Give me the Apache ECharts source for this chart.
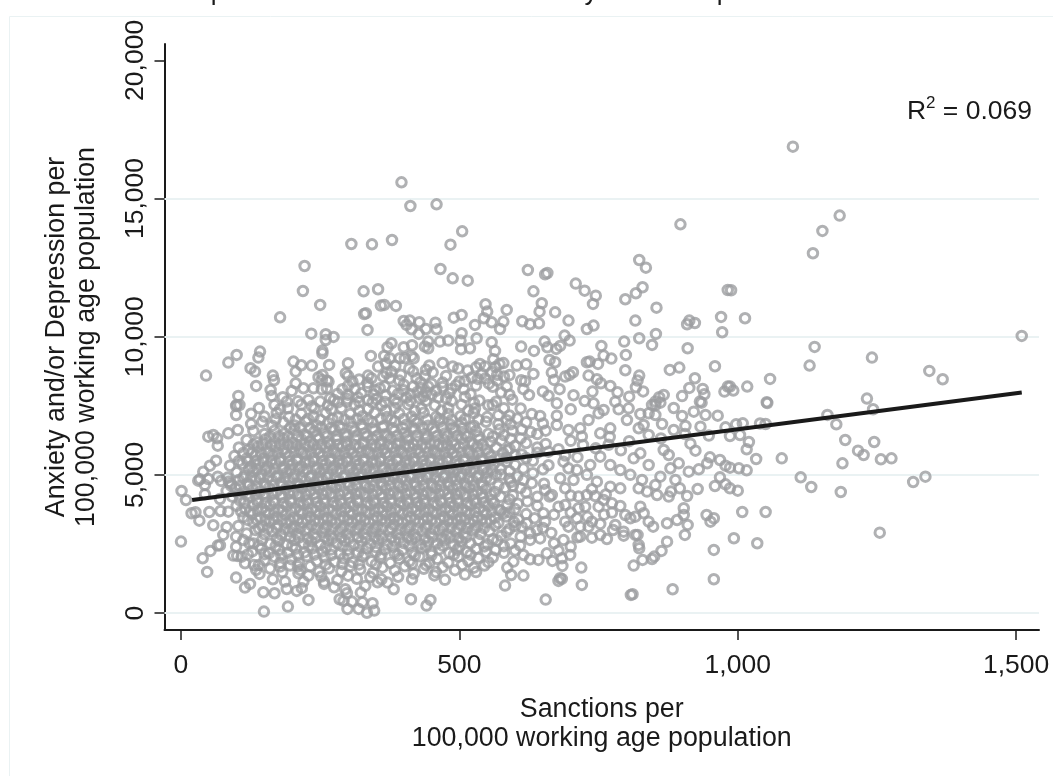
<!DOCTYPE html>
<html><head><meta charset="utf-8">
<style>html,body{margin:0;padding:0;background:#fff}#c{width:1053px;height:776px}</style>
<script src="https://cdn.jsdelivr.net/npm/echarts@6/dist/echarts.min.js"></script>
</head><body><div id="c"></div>
<script>
const xTicks=[0,500,1000,1500];
const yTicks=[0,5000,10000,15000,20000];
const gridValues=[0,5000,10000,15000];
const fitLine=[[20,4090],[1510,7980]];
const leftEdge=[[1,4417],[9,4091],[19,3609],[26,3645],[33,3343],[51,3657],[0,2585],[39,1980],[53,2246],[47,1486],[58,3175],[82,3114],[76,2825],[70,2451],[66,2440],[99,2764],[103,3150],[99,2400],[94,2077],[101,2065],[109,2040],[115,1800],[131,1740],[140,1740],[135,1559],[141,1414],[123,2523],[99,1281],[115,919],[124,1052],[148,750],[168,714],[149,51],[192,232],[229,473],[165,1220],[190,870],[187,1137],[208,800],[217,900],[220,1137],[229,1353],[211,1438],[257,1137],[257,1052],[281,1197],[275,931],[295,859],[298,714],[285,497],[292,437],[307,413],[299,147],[319,147],[326,389],[344,352],[347,87],[334,10],[323,739],[331,980],[353,1113],[371,1100],[382,859],[413,497],[441,268],[448,473],[49,6382],[58,6443],[65,6322],[66,6057],[85,6503],[102,6624],[63,5514],[52,5333],[40,5116],[34,4839],[31,4790],[49,4851],[43,4634],[66,4935],[43,4296],[70,4127],[88,5333],[86,4754],[71,3693],[85,3669],[99,7166],[99,7492],[105,7528]];
const topEdge=[[396,15587],[412,14730],[306,13356],[343,13344],[379,13500],[222,12560],[219,11655],[250,11149],[328,11643],[354,11716],[359,11125],[365,11149],[386,11113],[329,10823],[332,10847],[178,10702],[335,10244],[234,10111],[260,10088],[274,9991],[260,9882],[254,9497],[254,9400],[400,10570],[405,10425],[411,10582],[428,10522],[414,10268],[427,10100],[440,10280],[378,9762],[371,9617],[400,9617],[415,9689],[444,9822],[438,9641],[444,9581],[100,9340],[85,9062],[142,9460],[139,9243],[45,8592],[125,8857],[133,8737],[165,8592],[167,8423],[135,8218],[202,9099],[216,8966],[206,8737],[235,8954],[266,8978],[300,9038],[296,8676],[300,8580],[308,8375],[300,8218],[341,9304],[354,8918],[336,8592],[342,8495],[365,9304],[375,9219],[368,9038],[393,9219],[402,9219],[414,9304],[418,9219],[417,8737],[438,8592],[423,8495],[206,8315],[220,8134],[238,8134],[253,8098],[262,8134],[161,8073],[163,7857],[103,7857],[100,7531],[199,8037],[183,7808],[190,7651],[247,8532],[254,8616],[262,8411],[265,8375],[253,8435],[281,7929],[268,7772],[275,7712],[282,7627],[299,7748],[250,7651],[229,7712],[318,7796],[336,8194],[348,8073],[357,8134],[366,8194],[392,8411],[369,8676],[378,8737],[363,8556],[375,8495],[417,8194],[432,8134],[444,8194],[435,7833],[336,7712],[351,7736],[384,7712],[405,7796],[429,7773]];
const upperMiddle=[[459,14791],[505,13814],[484,13332],[466,12451],[488,12113],[515,12029],[623,12415],[654,12258],[658,12306],[633,11643],[648,11209],[644,10907],[672,10883],[696,10582],[613,10558],[627,10449],[643,10485],[709,11921],[725,11667],[745,11486],[740,11185],[798,11354],[817,11571],[829,11788],[823,12777],[835,12499],[897,14067],[854,11052],[982,11691],[816,10582],[823,9943],[853,10100],[846,9702],[796,9822],[799,9340],[798,8785],[910,9581],[909,10449],[913,10582],[923,10497],[970,10715],[972,10160],[729,10280],[741,10401],[689,10039],[698,9858],[653,9822],[658,9617],[674,9557],[681,9665],[755,9665],[759,9315],[773,9207],[749,9014],[729,9074],[734,9098],[878,8797],[895,8882],[959,8930],[923,8495],[913,8146],[937,8110],[940,7917],[976,8013],[982,8194],[932,7651],[867,7892],[859,7808],[852,7651],[846,7531],[823,8592],[820,8411],[817,8170],[784,7989],[771,8218],[754,8315],[747,8459],[732,8592],[739,8013],[704,8713],[698,8616],[690,8556],[666,8701],[670,8435],[633,8652],[662,9159],[672,9074],[620,9002],[603,8954],[634,9484],[611,9641],[585,10968],[579,10546],[573,10280],[558,10521],[544,10666],[550,10908],[547,11173],[528,10425],[531,9943],[519,9581],[504,10787],[490,10690],[457,10509],[459,10268],[504,10124],[502,9858],[480,9858],[465,9822],[503,9545],[558,9798],[564,9484],[561,9183],[537,9014],[546,8918],[533,8471],[572,9012],[565,8900],[579,9045],[568,8620],[590,8610],[580,8560],[546,8480],[553,8300],[568,8410],[611,8420],[618,8390]];
const rightEdge=[[1099,16878],[1183,14382],[1152,13827],[1135,13019],[988,11680],[1013,10667],[1510,10028],[1138,9630],[1129,8955],[1241,9244],[1344,8762],[1368,8460],[1232,7761],[1243,7375],[1058,8472],[1017,8195],[992,8050],[986,8195],[1052,7628],[1053,7600],[1161,7170],[1177,6829],[1193,6262],[1216,5876],[1226,5719],[1245,6189],[1257,5562],[1276,5598],[1188,5418],[1315,4742],[1337,4935],[1255,2909],[1185,4380],[1132,4561],[1113,4911],[1079,5598],[1050,6841],[1009,6865],[997,6829],[1004,6443],[986,6407],[1016,5924],[1033,5574],[1002,5237],[1016,5164],[986,5261],[1000,4429],[986,4513],[1008,3657],[1050,3657],[993,2704],[1035,2523]];
const lowerMiddle=[[655,485],[811,678],[808,654],[883,859],[957,1221],[957,2282],[720,1016],[684,1233],[678,1160],[681,1257],[719,1643],[685,1703],[667,1884],[684,1980],[699,2101],[678,2258],[670,2523],[687,2644],[700,2403],[657,2161],[642,1920],[627,1944],[615,1353],[593,1377],[582,991],[586,1643],[597,1860],[813,1715],[829,1920],[846,1956],[850,2041],[863,2246],[873,2583],[905,2825],[823,2342],[822,2463],[816,2825],[820,2825],[714,4212],[729,4272],[744,4236],[759,4091],[774,3970],[789,3874],[714,3790],[726,3850],[750,3850],[774,3633],[798,3548],[807,3428],[816,3488],[825,3850],[831,3609],[840,3307],[848,3126],[873,3247],[891,3367],[903,3790],[903,3548],[910,3187],[944,3548],[957,3428],[951,3307],[876,4212],[880,4393],[909,4236],[928,4489],[959,4598],[978,4658],[968,4911],[888,4815],[896,4513],[861,4935],[852,4634],[855,4272],[837,4393],[822,4513],[828,4815],[912,5116],[930,5200],[945,5418],[950,5635],[968,5538],[978,5333],[924,5876],[879,5237],[894,5418],[840,5357],[813,5598],[825,5780],[867,5900],[876,5719],[690,3307],[696,3126],[711,3428],[717,3126],[732,3126],[738,3307],[753,3223],[780,3187],[776,3005],[795,2945],[795,2800],[765,2680],[753,2825],[738,2728],[717,2764],[712,2740],[609,2439],[627,2644],[639,3005],[627,2885],[612,3126],[621,3247],[654,3307],[651,3609],[690,3910],[678,3850],[662,4212],[666,4272],[654,4453],[690,4513],[681,4875],[705,4815],[729,5000],[747,4754],[771,4573],[789,4513],[687,5478],[696,5237],[711,5176],[735,5357],[753,5659],[771,5357],[789,5176],[807,5000],[675,7142],[675,6805],[696,6624],[717,6684],[732,6985],[750,7226],[786,7371],[804,7407],[801,6985],[771,6684],[753,6503],[831,6805],[840,6443],[822,6684],[864,6841],[885,6624],[906,6768],[933,6744],[978,6720],[900,7130],[921,7287],[942,7166],[964,7142],[935,7612],[852,7528],[861,7612],[852,7166],[840,7226],[825,7202],[741,7588],[759,7347],[675,7588],[700,6230],[722,6080],[745,5960],[768,6090],[790,5890],[655,6120],[678,5930],[640,5800],[712,5640],[660,5350],[632,5510],[615,5230],[604,4940],[630,4700],[610,4520],[596,4260],[622,4040],[640,3880],[600,3760],[585,3490],[570,3260],[590,3040],[575,2790],[592,2520],[565,2280],[560,2010],[545,1720],[530,1480],[610,6320],[595,6600],[620,6900],[645,7130],[610,7400],[595,7720],[625,7890],[650,8020],[680,8100],[705,7880],[725,7670],[700,7370],[655,6600],[690,5700],[600,5700],[585,5480],[575,5000],[590,7150],[570,6830],[660,7860],[615,8100],[585,8200],[600,6050],[575,6240],[560,7530],[575,7980],[560,8190],[530,8230],[780,7650],[805,7830],[830,8020],[885,7420],[900,7850],[915,6130],[948,6420],[1020,6190],[1040,6860],[905,6480],[862,6320],[805,6220],[770,6370],[720,6390],[738,4480],[763,4290],[700,4250],[700,3640],[760,3560],[730,3480],[670,3560],[650,3080],[665,2900],[645,2700],[600,2260],[615,2100]];
const band1=[[160,1610],[182,1480],[196,1720],[214,1560],[232,1690],[248,1490],[266,1620],[288,1510],[304,1700],[322,1580],[345,1460],[362,1650],[384,1540],[402,1690],[418,1430],[436,1600],[458,1480],[470,1660],[492,1550],[510,1390],[526,1640],[150,1910],[168,2030],[178,1820],[198,1950],[212,1820],[226,2060],[244,1880],[258,2010],[276,1850],[292,1980],[308,1840],[326,2040],[342,1870],[358,2000],[376,1810],[392,1960],[410,1870],[428,2050],[446,1820],[460,1960],[480,1830],[498,2040],[516,1880],[534,1990],[552,1840],[128,2230],[144,2320],[158,2160],[176,2290],[192,2180],[206,2330],[222,2200],[236,2340],[254,2230],[270,2300],[286,2150],[300,2290],[318,2190],[334,2340],[350,2210],[366,2300],[384,2160],[398,2280],[416,2200],[432,2340],[450,2210],[464,2310],[482,2170],[496,2290],[514,2210],[530,2330],[548,2220],[580,2180]];
const band2=[[112,2640],[130,2520],[146,2650],[160,2510],[176,2620],[190,2480],[204,2640],[220,2520],[234,2600],[250,2470],[264,2640],[280,2520],[294,2620],[310,2470],[324,2610],[340,2510],[354,2640],[370,2480],[384,2610],[400,2530],[414,2650],[430,2490],[444,2600],[460,2520],[474,2650],[490,2480],[504,2600],[520,2520],[534,2640],[550,2490],[568,2620],[118,2880],[134,3000],[150,2850],[164,2960],[180,2830],[194,2970],[208,2860],[224,2980],[238,2850],[254,2940],[268,2820],[284,2960],[298,2850],[314,2990],[328,2870],[344,2950],[358,2820],[374,2970],[388,2860],[404,2990],[418,2840],[434,2960],[448,2870],[464,2990],[478,2840],[494,2950],[508,2860],[524,2990],[538,2860],[554,2960],[130,3260],[146,3150],[160,3300],[174,3180],[190,3270],[204,3140],[218,3280],[234,3170],[248,3310],[262,3160],[278,3250],[292,3130],[308,3290],[322,3170],[338,3270],[352,3140],[368,3300],[382,3190],[398,3260],[412,3140],[428,3290],[442,3170],[458,3280],[472,3150],[488,3300],[502,3180],[518,3250],[532,3140],[548,3290],[564,3160],[598,3290]];
const band3=[[112,3470],[128,3580],[142,3450],[158,3590],[172,3470],[188,3560],[202,3440],[218,3600],[232,3480],[248,3570],[262,3440],[278,3590],[292,3480],[308,3560],[322,3450],[338,3610],[352,3470],[368,3550],[382,3440],[398,3590],[412,3470],[428,3570],[442,3450],[458,3600],[472,3480],[488,3560],[502,3440],[518,3590],[532,3470],[548,3570],[564,3450],[580,3620],[100,3880],[116,3760],[130,3900],[146,3780],[160,3890],[176,3750],[190,3880],[206,3790],[220,3920],[236,3770],[250,3860],[266,3750],[280,3900],[296,3790],[310,3880],[326,3750],[340,3910],[356,3780],[370,3860],[386,3760],[400,3900],[416,3790],[430,3880],[446,3750],[460,3910],[476,3780],[490,3870],[506,3760],[520,3900],[536,3790],[552,3880],[570,3750],[586,3900],[92,4210],[106,4080],[122,4200],[136,4100],[152,4220],[166,4060],[182,4190],[196,4090],[212,4230],[226,4070],[242,4180],[256,4100],[272,4220],[286,4070],[302,4190],[316,4090],[332,4230],[346,4060],[362,4180],[376,4100],[392,4220],[406,4080],[422,4190],[436,4090],[452,4230],[466,4070],[482,4180],[496,4100],[512,4220],[526,4080],[542,4190],[558,4090],[574,4210],[640,4210]];
const band4=[[82,4420],[98,4520],[112,4380],[128,4500],[142,4390],[158,4530],[172,4400],[188,4490],[202,4370],[218,4520],[232,4410],[248,4500],[262,4380],[278,4530],[292,4400],[308,4490],[322,4370],[338,4520],[352,4410],[368,4500],[382,4380],[398,4530],[412,4400],[428,4490],[442,4370],[458,4520],[472,4410],[488,4500],[502,4380],[518,4530],[532,4400],[548,4490],[564,4380],[582,4530],[652,4680],[72,4780],[90,4680],[104,4810],[120,4700],[134,4830],[150,4690],[164,4800],[180,4710],[194,4840],[210,4680],[224,4790],[240,4720],[254,4830],[270,4690],[284,4800],[300,4710],[314,4840],[330,4680],[344,4790],[360,4720],[374,4830],[390,4690],[404,4800],[420,4710],[434,4840],[450,4680],[464,4790],[480,4720],[494,4830],[510,4690],[524,4800],[540,4710],[556,4840],[592,4740],[100,5090],[114,4970],[130,5110],[144,5000],[160,5120],[174,4980],[190,5080],[204,5000],[220,5130],[234,4970],[250,5090],[264,5010],[280,5120],[294,4980],[310,5080],[324,5000],[340,5130],[354,4970],[370,5090],[384,5010],[400,5120],[414,4980],[430,5080],[444,5000],[460,5130],[474,4970],[490,5090],[504,5010],[520,5120],[534,4980],[550,5080],[566,5000],[590,5140],[632,5060]];
const band5=[[110,5400],[126,5290],[140,5420],[156,5300],[170,5430],[186,5280],[200,5390],[216,5310],[230,5440],[246,5270],[260,5400],[276,5320],[290,5430],[306,5280],[320,5390],[336,5310],[350,5440],[366,5270],[380,5400],[396,5320],[410,5430],[426,5280],[440,5390],[456,5310],[470,5440],[486,5270],[500,5400],[516,5320],[530,5430],[546,5280],[562,5390],[96,5680],[118,5590],[134,5700],[148,5580],[164,5720],[178,5600],[194,5680],[208,5570],[224,5730],[238,5610],[254,5690],[268,5570],[284,5720],[298,5600],[314,5680],[328,5570],[344,5730],[358,5610],[374,5690],[388,5570],[404,5720],[418,5600],[434,5680],[448,5570],[464,5730],[478,5610],[494,5690],[508,5570],[524,5720],[540,5600],[556,5680],[572,5580],[612,5740],[104,5990],[122,5900],[138,6010],[154,5880],[170,6030],[184,5910],[200,5990],[214,5880],[230,6040],[244,5920],[260,6000],[274,5880],[290,6030],[304,5910],[320,5990],[334,5880],[350,6040],[364,5920],[380,6000],[394,5880],[410,6030],[424,5910],[440,5990],[454,5880],[470,6040],[484,5920],[500,6000],[516,5880],[532,6030],[548,5910],[566,5990],[586,5880],[660,5840]];
const band6=[[118,6260],[136,6180],[152,6290],[168,6200],[184,6310],[200,6170],[216,6280],[232,6210],[248,6320],[264,6180],[280,6270],[296,6200],[312,6310],[328,6170],[344,6280],[360,6220],[376,6320],[392,6180],[408,6270],[424,6200],[440,6310],[456,6170],[472,6280],[488,6210],[504,6320],[520,6180],[536,6270],[556,6200],[592,6310],[130,6590],[150,6480],[168,6600],[186,6500],[204,6620],[222,6470],[240,6580],[258,6510],[276,6630],[294,6480],[312,6570],[330,6500],[348,6620],[366,6470],[384,6590],[402,6510],[420,6630],[438,6480],[456,6570],[474,6500],[492,6620],[510,6480],[530,6590],[552,6490],[628,6550],[126,6840],[146,6920],[164,6780],[184,6900],[204,6790],[224,6930],[244,6790],[264,6880],[284,6770],[304,6920],[324,6810],[344,6900],[364,6770],[384,6930],[404,6800],[424,6880],[444,6780],[464,6920],[484,6810],[504,6890],[526,6780],[548,6920],[592,6830],[650,6860]];
const band7=[[126,7210],[150,7110],[172,7240],[194,7090],[216,7210],[238,7120],[260,7250],[282,7080],[304,7200],[326,7120],[348,7240],[370,7090],[392,7220],[414,7110],[436,7250],[458,7090],[480,7200],[502,7120],[526,7240],[550,7090],[140,7420],[168,7530],[192,7410],[216,7540],[240,7400],[264,7510],[288,7420],[312,7540],[336,7390],[360,7520],[384,7420],[408,7550],[432,7400],[456,7510],[480,7420],[504,7540],[528,7400],[552,7520],[580,7410],[462,7800],[486,7680],[510,7820],[536,7690],[458,8040],[482,7950],[508,8100],[470,8340],[494,8240],[520,7920],[452,8710],[476,8580],[498,8850],[510,8400],[470,9050],[488,8920],[446,8960]];
const coreFillA=[[172,2700],[196,2740],[212,2730],[228,2700],[242,2720],[258,2750],[272,2700],[288,2730],[302,2690],[318,2740],[332,2710],[348,2750],[362,2700],[378,2730],[392,2690],[408,2740],[422,2720],[438,2700],[452,2750],[468,2710],[484,2730],[498,2700],[512,2740],[140,3060],[156,3050],[172,3070],[186,3040],[200,3060],[214,3080],[228,3050],[244,3060],[258,3040],[272,3070],[288,3050],[304,3080],[318,3050],[334,3060],[348,3040],[362,3080],[378,3060],[394,3040],[408,3070],[424,3050],[440,3080],[454,3040],[470,3060],[484,3080],[498,3050],[514,3070],[528,3050],[544,3070],[120,3370],[136,3390],[152,3360],[166,3390],[182,3370],[196,3350],[210,3380],[226,3390],[240,3360],[256,3390],[270,3350],[286,3380],[300,3370],[316,3390],[330,3350],[346,3380],[360,3370],[376,3390],[390,3350],[406,3370],[420,3390],[436,3360],[450,3380],[466,3390],[480,3350],[496,3370],[510,3390],[526,3360],[540,3380],[556,3370],[108,3680],[124,3670],[138,3700],[152,3680],[168,3660],[182,3690],[198,3680],[214,3700],[228,3660],[242,3690],[258,3670],[272,3700],[288,3680],[302,3660],[318,3700],[332,3680],[348,3670],[362,3700],[378,3660],[392,3690],[408,3670],[422,3700],[438,3680],[452,3660],[468,3690],[482,3700],[498,3670],[512,3680],[528,3660],[544,3690],[558,3670],[574,3700],[114,3990],[138,4000],[152,3980],[168,4000],[184,3970],[198,4000],[214,3990],[228,3970],[244,4010],[258,3980],[274,4000],[288,3970],[304,3990],[318,4010],[334,3980],[348,4000],[364,3970],[378,3990],[394,4010],[408,3980],[424,4000],[438,3970],[454,3990],[468,4010],[484,3980],[498,4000],[514,3970],[530,3990],[544,4000],[562,3980]];
const coreFillB=[[104,4300],[120,4310],[134,4290],[150,4320],[164,4300],[180,4290],[194,4320],[210,4300],[224,4290],[240,4310],[254,4300],[270,4320],[284,4290],[300,4310],[314,4300],[330,4320],[344,4290],[360,4310],[374,4300],[390,4290],[404,4320],[420,4300],[434,4290],[450,4310],[464,4300],[480,4320],[494,4290],[510,4310],[524,4300],[540,4320],[556,4290],[90,4610],[106,4600],[122,4620],[136,4590],[152,4610],[166,4620],[182,4600],[196,4590],[212,4620],[226,4610],[242,4600],[256,4620],[272,4590],[286,4610],[302,4600],[316,4620],[332,4590],[346,4610],[362,4600],[376,4620],[392,4590],[406,4610],[422,4600],[436,4620],[452,4590],[466,4610],[482,4600],[496,4620],[512,4590],[526,4610],[542,4600],[570,4610],[84,4900],[112,4890],[126,4910],[142,4880],[156,4900],[172,4910],[186,4890],[202,4880],[216,4910],[232,4900],[246,4880],[262,4910],[276,4890],[292,4900],[306,4880],[322,4910],[336,4890],[352,4900],[366,4880],[382,4910],[396,4890],[412,4900],[426,4880],[442,4910],[456,4890],[472,4900],[486,4880],[502,4910],[516,4890],[532,4900],[548,4880],[122,5200],[136,5210],[152,5190],[168,5220],[182,5200],[196,5190],[212,5220],[226,5200],[242,5190],[256,5210],[272,5200],[286,5220],[302,5190],[316,5210],[332,5200],[346,5220],[362,5190],[376,5210],[392,5200],[406,5220],[422,5190],[436,5210],[452,5200],[466,5220],[482,5190],[496,5210],[512,5200],[526,5220],[542,5190],[558,5210],[574,5200]];
const coreFillC=[[104,5500],[120,5490],[134,5510],[148,5480],[162,5510],[178,5500],[194,5490],[208,5510],[224,5480],[238,5510],[254,5500],[268,5490],[284,5510],[298,5480],[314,5510],[328,5500],[344,5490],[358,5510],[374,5480],[388,5510],[404,5500],[418,5490],[434,5510],[448,5480],[464,5510],[478,5500],[494,5490],[508,5510],[524,5480],[540,5510],[556,5490],[112,5790],[128,5800],[144,5780],[158,5810],[174,5790],[188,5780],[204,5810],[218,5790],[234,5800],[248,5780],[264,5810],[278,5790],[294,5800],[308,5780],[324,5810],[338,5790],[354,5800],[368,5780],[384,5810],[398,5790],[414,5800],[428,5780],[444,5810],[458,5790],[474,5800],[488,5780],[504,5810],[518,5790],[534,5800],[552,5780],[578,5790],[130,6090],[146,6100],[162,6080],[178,6110],[192,6090],[208,6080],[222,6110],[238,6100],[252,6080],[268,6110],[282,6090],[298,6100],[312,6080],[328,6110],[342,6090],[358,6100],[372,6080],[388,6110],[402,6090],[418,6100],[432,6080],[448,6110],[462,6090],[478,6100],[492,6080],[508,6110],[524,6090],[542,6100],[160,6390],[176,6400],[192,6380],[210,6410],[226,6390],[244,6400],[262,6380],[280,6410],[298,6390],[316,6400],[334,6380],[352,6410],[370,6390],[388,6400],[406,6380],[424,6410],[442,6390],[460,6400],[478,6380],[496,6410],[514,6390],[534,6400],[560,6380],[196,6700],[214,6710],[232,6690],[252,6720],[270,6700],[288,6690],[308,6720],[326,6700],[344,6690],[362,6720],[380,6700],[398,6690],[416,6720],[434,6700],[452,6690],[470,6720],[488,6700],[506,6690],[520,6710],[572,6640],[170,7010],[206,7000],[228,7020],[250,6990],[272,7020],[294,7000],[316,7020],[336,6990],[358,7020],[378,7000],[400,7020],[420,6990],[442,7010],[464,7020],[486,6990],[510,7010],[534,7000],[270,7370],[320,7320],[368,7330],[420,7310],[468,7330],[516,7330],[440,7680],[476,7770],[526,7600],[566,7650]];
const coreFillD=[[298,7640],[320,7650],[344,7620],[366,7640],[388,7600],[412,7670],[300,7900],[324,7950],[346,7900],[368,7880],[390,7930],[412,7920],[450,7900],[312,8100],[380,8050],[400,8060],[425,8000],[440,7980],[470,8180],[486,8110],[500,8380],[522,8520],[540,8660],[558,8720],[515,8780],[530,8890],[450,8300],[430,8350],[400,8260],[395,8620],[410,8850],[440,8800],[385,8950],[320,8450],[335,8330],[290,8100],[178,7380],[210,7660],[235,7480],[590,7900],[570,7160],[604,7040],[630,7200],[585,6980],[612,6640],[640,6480],[580,6440],[620,6150],[590,5940],[640,5990],[585,5620],[620,5610],[600,5360],[650,5200],[590,4860],[615,4810],[596,4600],[620,4360],[590,4110],[605,3950],[590,3650],[620,3580],[606,3380],[635,3430],[600,3150],[585,2930],[610,2760],[560,2670],[580,2420],[545,2410],[500,2410],[470,2440],[440,2420],[410,2430],[380,2400],[350,2390],[320,2420],[290,2410],[260,2380],[230,2430],[200,2420],[170,2420],[140,2440],[520,2110],[490,2110],[450,2100],[420,2090],[390,2100],[360,2110],[330,2130],[300,2110],[270,2100],[240,2110],[210,2100],[180,2100],[150,2130],[120,2120],[505,1740],[440,1740],[415,1780],[350,1760],[320,1760],[290,1770],[260,1750],[210,1690],[178,1680],[455,1360],[390,1310],[340,1300],[300,1350],[252,1320],[474,1200],[415,1220],[360,1220],[316,1240]];
const allPoints=[...leftEdge,...topEdge,...upperMiddle,...rightEdge,...lowerMiddle,...band1,...band2,...band3,...band4,...band5,...band6,...band7,...coreFillA,...coreFillB,...coreFillC,...coreFillD];

const chart=echarts.init(document.getElementById('c'),null,{renderer:'canvas'});
const font='"Liberation Sans", Arial, sans-serif';
const ink='#1a1a1a';
const pale='#eaf2f3';
chart.setOption({
 animation:false,backgroundColor:'#fff',
 textStyle:{fontFamily:font},
 grid:{left:164.5,right:14,top:44,bottom:146,containLabel:false},
 xAxis:{type:'value',min:-29.6,max:1541,
  name:'Sanctions per\n100,000 working age population',nameLocation:'middle',nameGap:65,
  nameTextStyle:{fontFamily:font,fontSize:26.8,color:ink,lineHeight:29},
  axisLine:{show:true,onZero:false,lineStyle:{color:ink,width:2}},
  axisTick:{show:true,length:10,customValues:xTicks,lineStyle:{color:ink,width:1.5}},
  axisLabel:{customValues:xTicks,margin:22,fontSize:26.5,color:ink,fontFamily:font,formatter:v=>v.toLocaleString('en-US')},
  splitLine:{show:false}},
 yAxis:{type:'value',min:-615,max:20593,
  name:'Anxiety and/or Depression per\n100,000 working age population',nameLocation:'middle',nameRotate:90,nameGap:63,nameTextStyle:{fontFamily:font,fontSize:26.8,color:ink,lineHeight:30},
  axisLine:{show:true,onZero:false,lineStyle:{color:ink,width:2}},
  axisTick:{show:true,length:10,customValues:yTicks,lineStyle:{color:ink,width:1.5}},
  axisLabel:{customValues:yTicks,rotate:90,margin:29,fontSize:26.5,color:ink,fontFamily:font,verticalAlign:'middle',align:'center',formatter:v=>v.toLocaleString('en-US')},
  splitLine:{show:false}},
 series:[
  {type:'scatter',data:allPoints,symbol:'circle',symbolSize:9.5,silent:true,z:3,
   itemStyle:{color:'rgba(255,255,255,0)',borderColor:'#9c9da0',borderWidth:3},
   markLine:{silent:true,symbol:'none',z:1,label:{show:false},lineStyle:{color:pale,width:2,type:'solid'},data:gridValues.map(v=>({yAxis:v}))}},
  {type:'line',data:fitLine,symbol:'none',z:5,silent:true,lineStyle:{color:ink,width:4}}
 ],
 graphic:[
  {type:'rect',silent:true,z:0,shape:{x:9.5,y:16.5,width:1100,height:800},style:{fill:'none',stroke:pale,lineWidth:1}},
  {type:'text',silent:true,z:6,x:1032,y:112,style:{text:'{a|R}{s|2}{a| = 0.069}',align:'right',verticalAlign:'middle',rich:{a:{fontFamily:font,fontSize:26.5,fill:ink,color:ink},s:{fontFamily:font,fontSize:17,fill:ink,color:ink,padding:[0,0,18,0]}}}},
  {type:'text',silent:true,z:6,x:218,y:6,style:{text:'p',fontFamily:font,fontSize:26,fill:ink,align:'center',verticalAlign:'bottom'}},
  {type:'text',silent:true,z:6,x:591,y:6,style:{text:'y',fontFamily:font,fontSize:26,fill:ink,align:'center',verticalAlign:'bottom'}},
  {type:'text',silent:true,z:6,x:724,y:6,style:{text:'p',fontFamily:font,fontSize:26,fill:ink,align:'center',verticalAlign:'bottom'}}
 ]
});
</script></body></html>
